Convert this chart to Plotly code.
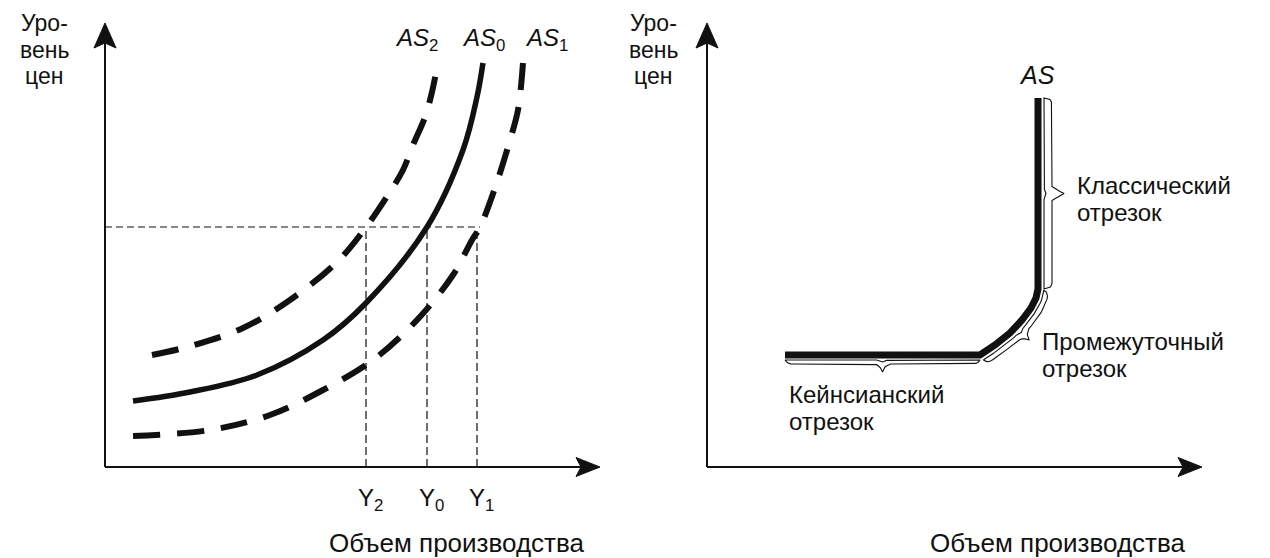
import numpy as np
import plotly.graph_objects as go

# ---------------- data (abstract units: output on X, price level on Y) ----------------
# left panel: AS curves
as0_x = [0.566, 1.717, 3.071, 4.404, 5.273, 6.505, 7.232, 7.515, 7.636]
as0_y = [1.486, 1.689, 2.072, 2.860, 3.694, 5.405, 7.140, 8.333, 9.099]

as2_x = [0.949, 1.657, 2.788, 3.737, 4.687, 5.232, 5.717, 6.020, 6.222, 6.465, 6.606, 6.727]
as2_y = [2.523, 2.703, 3.131, 3.761, 4.617, 5.338, 6.126, 6.689, 7.252, 7.883, 8.446, 9.122]

as1_x = [0.566, 2.121, 3.333, 4.404, 5.414, 6.303, 7.030, 7.414, 7.576, 7.879, 8.182, 8.343, 8.444]
as1_y = [0.698, 0.833, 1.171, 1.734, 2.410, 3.311, 4.324, 5.113, 5.405, 6.284, 7.365, 8.041, 9.099]

price_level = 5.405
output_levels = [5.273, 6.505, 7.515]          # Y2, Y0, Y1
output_labels = ["Y<sub>2</sub>", "Y<sub>0</sub>", "Y<sub>1</sub>"]
curve_labels = ["<i>AS</i><sub>2</sub>", "<i>AS</i><sub>0</sub>", "<i>AS</i><sub>1</sub>"]
curve_label_x = [6.29, 7.64, 8.91]

# right panel: AS with three segments
as_x = [1.576, 5.515, 5.818, 6.121, 6.364, 6.545, 6.646, 6.687, 6.687]
as_y = [2.523, 2.523, 2.748, 3.018, 3.311, 3.581, 3.806, 4.009, 8.311]
segments = {"keynes": (0, 1), "mid": (1, 7), "classic": (7, 8)}

axis_max = 10.0
y_title = ["Уро-", "вень", "цен"]
x_title = "Объем производства"

# ---------------- geometry ----------------
PAGE_OFF = 8                    # default body margin of the html page
W, H = 1270 - PAGE_OFF, 558 - PAGE_OFF
SX, SY = 49.5, 44.4             # px per unit
L_OX, R_OX, OY = 105, 707, 467  # page pixel positions of the origins
SPLIT = 635

FONT = "Liberation Sans, Arial, sans-serif"
INK = "#111111"

fig = go.Figure()

def add_line(x, y, ax, width, dash="solid", color=INK, shape="linear"):
    fig.add_trace(go.Scatter(x=x, y=y, xaxis=ax, yaxis="y" if ax == "x" else "y2",
                             mode="lines", line=dict(color=color, width=width, dash=dash, shape=shape),
                             hoverinfo="skip", showlegend=False))

def arrowhead(ax, tip_x, tip_y, dirx, diry, length=24, half=10.5, notch=5):
    # notched arrowhead polygon built in pixel space around the axis tip
    ux, uy = dirx, diry            # screen direction (y down)
    nx, ny = -uy, ux
    pts = [(0, 0), (-length, half), (-length + notch, 0), (-length, -half), (0, 0)]
    xs = [tip_x + (t * ux + s * nx) / SX for t, s in pts]
    ys = [tip_y - (t * uy + s * ny) / SY for t, s in pts]
    fig.add_trace(go.Scatter(x=xs, y=ys, xaxis=ax, yaxis="y" if ax == "x" else "y2",
                             mode="lines", fill="toself", fillcolor=INK,
                             line=dict(color=INK, width=1), hoverinfo="skip", showlegend=False))

# axes lines + arrowheads
for ax in ["x", "x2"]:
    add_line([0, axis_max - 0.3], [0, 0], ax, 2)
    add_line([0, 0], [0, axis_max - 0.3], ax, 2)
    arrowhead(ax, axis_max, 0, 1, 0, length=24, half=9.5)
    arrowhead(ax, 0, axis_max, 0, -1, length=25, half=11)

# guide lines (left)
add_line([0, as1_x[8]], [price_level, price_level], "x", 1.2, dash="7px,4px")
for xv in output_levels:
    add_line([xv, xv], [0, price_level], "x", 1.2, dash="8px,4px")

# AS curves (left)
add_line(as2_x, as2_y, "x", 6, dash="27px,17px", shape="spline")
add_line(as1_x, as1_y, "x", 6, dash="27px,17px", shape="spline")
add_line(as0_x, as0_y, "x", 5.5, shape="spline")

# AS (right)
add_line(as_x, as_y, "x2", 7)

# braces that follow the AS curve between two of its points
def brace(i0, i1, s_in, s_out, s_tip):
    px = np.array(as_x[i0:i1 + 1]) * SX
    py = -np.array(as_y[i0:i1 + 1]) * SY
    seg = np.hypot(np.diff(px), np.diff(py))
    cum = np.concatenate([[0], np.cumsum(seg)])
    L = cum[-1]
    m = L / 2
    out_k = [(0, s_in), (1.5, s_out - 2), (5, s_out), (m - 7, s_out), (m - 2.5, s_tip - 5),
             (m, s_tip), (m + 2.5, s_tip - 5), (m + 7, s_out), (L - 5, s_out),
             (L - 1.5, s_out - 2), (L, s_in)]
    in_k = [(0, s_in), (m - 5, s_in), (m, s_in + 2), (m + 5, s_in), (L, s_in)]
    grid = np.linspace(0, L, int(L / 2) + 2)

    def path(knots):
        kt = np.array([k[0] for k in knots])
        ks = np.array([k[1] for k in knots])
        t = np.unique(np.concatenate([grid, kt]))
        s = np.interp(t, kt, ks)
        x = np.interp(t, cum, px)
        y = np.interp(t, cum, py)
        dt = 1.5
        dx = np.interp(np.clip(t + dt, 0, L), cum, px) - np.interp(np.clip(t - dt, 0, L), cum, px)
        dy = np.interp(np.clip(t + dt, 0, L), cum, py) - np.interp(np.clip(t - dt, 0, L), cum, py)
        nn = np.hypot(dx, dy)
        ux, uy = dx / nn, dy / nn
        return x - uy * s, y + ux * s

    ox, oy = path(out_k)
    ix, iy = path(in_k)
    bx = np.concatenate([ox, ix[::-1]]) / SX
    by = -np.concatenate([oy, iy[::-1]]) / SY
    fig.add_trace(go.Scatter(x=bx, y=by, xaxis="x2", yaxis="y2", mode="lines", fill="toself",
                             fillcolor="white", line=dict(color=INK, width=1.1),
                             hoverinfo="skip", showlegend=False))

brace(*segments["keynes"], 5, 9, 17)
brace(*segments["mid"], 6, 11, 19)
brace(*segments["classic"], 6, 14, 26)

# ---------------- annotations ----------------
ann = []
def txt(x, y, s, ax="x", size=26, xanchor="center"):
    ann.append(dict(x=x, y=y, xref=ax, yref="y" if ax == "x" else "y2", text=s, showarrow=False,
                    xanchor=xanchor, yanchor="middle",
                    font=dict(family=FONT, size=size, color=INK)))

# y-axis titles
for ax, cx in [("x", -1.23), ("x2", -1.09)]:
    for k, line in enumerate(y_title):
        txt(cx, 10.0 - 0.6 * k, line, ax, size=23)

# x-axis titles
txt(7.11, -1.72, x_title, "x", size=26)
txt(7.09, -1.72, x_title, "x2", size=26)

# curve labels
for xl, lab in zip(curve_label_x, curve_labels):
    txt(xl, 9.62, lab, "x", size=24)
# output labels
for xv, lab in zip(output_levels, output_labels):
    txt(xv + 0.1, -0.74, lab, "x", size=24)

# right panel labels
txt(6.67, 8.83, "<i>AS</i>", "x2", size=25)
txt(7.43, 6.35, "Классический", "x2", size=24, xanchor="left")
txt(7.43, 5.74, "отрезок", "x2", size=24, xanchor="left")
txt(6.73, 2.82, "Промежуточный", "x2", size=24, xanchor="left")
txt(6.73, 2.21, "отрезок", "x2", size=24, xanchor="left")
txt(1.62, 1.63, "Кейнсианский", "x2", size=24, xanchor="left")
txt(1.62, 1.02, "отрезок", "x2", size=24, xanchor="left")

hidden = dict(visible=False, showgrid=False, zeroline=False, fixedrange=True)
split = (SPLIT - PAGE_OFF) / W
fig.update_layout(
    width=W, height=H, autosize=False,
    margin=dict(l=0, r=0, t=0, b=0, pad=0),
    paper_bgcolor="white", plot_bgcolor="white",
    showlegend=False,
    xaxis=dict(domain=[0, split], range=[(PAGE_OFF - L_OX) / SX, (SPLIT - L_OX) / SX], **hidden),
    xaxis2=dict(domain=[split, 1], range=[(SPLIT - R_OX) / SX, (1270 - R_OX) / SX], **hidden),
    yaxis=dict(domain=[0, 1], anchor="x", range=[(OY - 558) / SY, (OY - PAGE_OFF) / SY], **hidden),
    yaxis2=dict(domain=[0, 1], anchor="x2", range=[(OY - 558) / SY, (OY - PAGE_OFF) / SY], **hidden),
    annotations=ann,
)

fig.write_html("out.html")
